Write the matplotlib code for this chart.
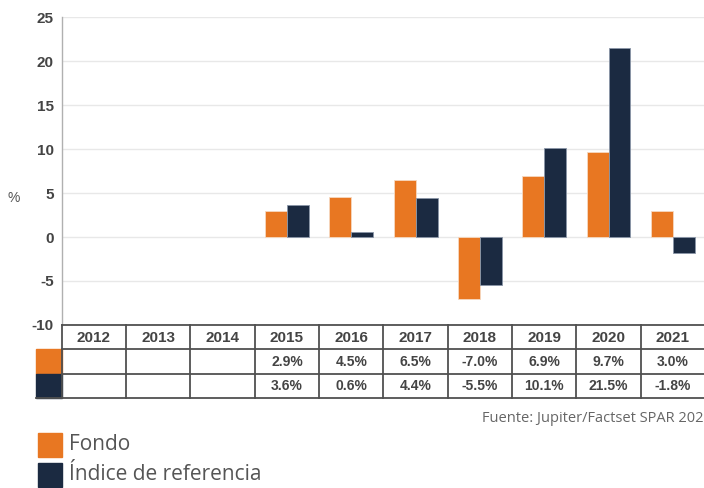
import matplotlib.pyplot as plt
import numpy as np

years = ["2012", "2013", "2014", "2015", "2016", "2017", "2018", "2019", "2020", "2021"]
fondo = [np.nan, np.nan, np.nan, 2.9, 4.5, 6.5, -7.0, 6.9, 9.7, 3.0]
indice = [np.nan, np.nan, np.nan, 3.6, 0.6, 4.4, -5.5, 10.1, 21.5, -1.8]
fondo_txt = ["", "", "", "2.9%", "4.5%", "6.5%", "-7.0%", "6.9%", "9.7%", "3.0%"]
indice_txt = ["", "", "", "3.6%", "0.6%", "4.4%", "-5.5%", "10.1%", "21.5%", "-1.8%"]
yticks = [-10, -5, 0, 5, 10, 15, 20, 25]

c_fondo = "#E87722"
c_indice = "#1B2A41"
line_c = "#505050"
W, H = 704, 488

fig = plt.figure(figsize=(W / 100, H / 100), dpi=100)

# main chart
ax = fig.add_axes([62 / W, 1 - 325 / H, (705 - 62) / W, (325 - 17) / H])
x = np.arange(len(years))
ax.bar(x - 0.17, fondo, width=0.34, color=c_fondo, edgecolor="#f6d9c0", linewidth=0.6, zorder=3)
ax.bar(x + 0.17, indice, width=0.34, color=c_indice, edgecolor="#8a96a8", linewidth=0.6, zorder=3)
ax.set_xlim(-0.5, len(years) - 0.5)
ax.set_ylim(-10, 25)
ax.set_yticks(yticks)
ax.set_yticklabels([str(t) for t in yticks], fontsize=11, fontweight="bold", color="#444444",
                   family="Liberation Sans")
ax.tick_params(axis="y", length=0, pad=6)
ax.set_xticks([])
ax.grid(axis="y", color="#e8e8e8", linewidth=1, zorder=0)
for s in ["top", "right", "bottom"]:
    ax.spines[s].set_visible(False)
ax.spines["left"].set_color("#b0b0b0")
ax.spines["left"].set_linewidth(1)
fig.text(14 / W, 1 - 198 / H, "%", fontsize=10, color="#555555", ha="center", va="center",
         family="Liberation Sans")

# data table below the chart
tx = fig.add_axes([36 / W, 1 - 398 / H, (705 - 36) / W, (398 - 325) / H])
tx.set_xlim(-0.9, len(years) - 0.5)
tx.set_ylim(3, 0)
tx.axis("off")
n = len(years)
tx.add_patch(plt.Rectangle((-0.9, 1), 0.4, 1, color=c_fondo, clip_on=False))
tx.add_patch(plt.Rectangle((-0.9, 2), 0.4, 1, color=c_indice, clip_on=False))
tx.plot([-0.5, n - 0.5], [0, 0], color=line_c, lw=1.3, clip_on=False)
tx.plot([-0.5, n - 0.5], [1, 1], color=line_c, lw=1.3, clip_on=False)
tx.plot([-0.5, n - 0.5], [2, 2], color=line_c, lw=1.3, clip_on=False)
tx.plot([-0.9, n - 0.5], [3, 3], color=line_c, lw=1.3, clip_on=False)
for i in range(n + 1):
    tx.plot([i - 0.5, i - 0.5], [0, 3], color=line_c, lw=1.3, clip_on=False)
for i, y in enumerate(years):
    tx.text(i, 0.55, y, ha="center", va="center", fontsize=11, fontweight="bold",
            color="#444444", family="Liberation Sans")
    tx.text(i, 1.5, fondo_txt[i], ha="center", va="center", fontsize=10, fontweight="bold",
            color="#444444", family="Liberation Sans")
    tx.text(i, 2.5, indice_txt[i], ha="center", va="center", fontsize=10, fontweight="bold",
            color="#444444", family="Liberation Sans")

fig.text(703 / W, 1 - 418 / H, "Fuente: Jupiter/Factset SPAR 202", fontsize=10.5, color="#666666",
         ha="right", va="center", family="Open Sans")

# legend
fig.patches.append(plt.Rectangle((38 / W, 1 - 457 / H), 24 / W, 24 / H, color=c_fondo,
                                 transform=fig.transFigure, figure=fig))
fig.patches.append(plt.Rectangle((38 / W, 1 - 487 / H), 24 / W, 24 / H, color=c_indice,
                                 transform=fig.transFigure, figure=fig))
fig.text(69 / W, 1 - 445 / H, "Fondo", fontsize=15, color="#555555", va="center",
         family="Open Sans")
fig.text(69 / W, 1 - 475 / H, "Índice de referencia", fontsize=15, color="#555555",
         va="center", family="Open Sans")

fig.savefig("out.png", dpi=100)
